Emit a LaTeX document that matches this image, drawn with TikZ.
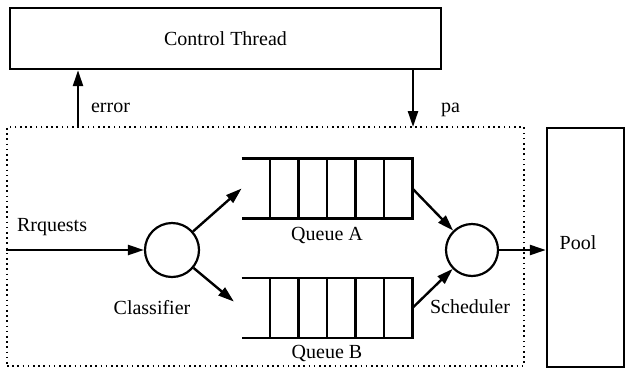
\documentclass[tikz,border=0pt]{standalone}
\usepackage{fontspec}
\setmainfont{Liberation Serif}
\usetikzlibrary{positioning,calc,arrows.meta}

\tikzset{
  box/.style={draw, line width=1.2pt, inner sep=0pt},
  proc/.style={draw, circle, line width=1.1pt, minimum size=27pt, inner sep=0pt},
  arr/.style={line width=1.2pt, -{Triangle[length=8pt,width=5pt]}},
  qcell/.style={inner sep=0pt, minimum width=85pt, minimum height=29.5pt},
  frm/.style={draw, line width=0.8pt, dash pattern=on 0.8pt off 1.8pt, inner sep=0pt},
}

\begin{document}
\begin{tikzpicture}[x=0.5pt,y=-0.5pt]
    \useasboundingbox (0,0) rectangle (625,370);

    % Control thread, pool and the dotted frame
    \node[box, minimum width=215.5pt, minimum height=30.5pt] (ctrl) at (225.5,38.5) {Control Thread};
    \node[box, minimum width=38.5pt, minimum height=119.5pt] (pool) at (585.5,247.5) {};
    \node (poolname) at (578,243) {Pool};
    \node[frm, minimum width=258.5pt, minimum height=119.5pt] (frame) at (265.5,246.5) {};

    % Classifier and scheduler
    \node[proc] (cls) at (172,250) {};
    \node[proc, minimum size=26pt] (sch) at (472,250) {};
    \node (clsname) at (152,308) {Classifier};
    \node (schname) at (470,307) {Scheduler};

    % Queues
    \node[qcell] (qa) at (327,188.5) {};
    \node[qcell] (qb) at (327,308) {};
    \foreach \q in {qa,qb} {
        \draw[line width=1.2pt] (\q.north west) -- (\q.north east) -- (\q.south east) -- (\q.south west);
        \foreach \k in {1,...,5}
            \draw[line width=1.1pt] ($(\q.north west)!\k/6!(\q.north east)$) -- ($(\q.south west)!\k/6!(\q.south east)$);
    }
    \node[below=1pt of qa] (qaname) {Queue A};
    \node[below=0pt of qb] (qbname) {Queue B};

    % Connectors
    \coordinate (errpt) at (78,127);
    \coordinate (papt) at (413,127);
    \draw[arr] (errpt) -- (errpt |- ctrl.south);
    \draw[arr] (papt |- ctrl.south) -- (papt);
    \node[anchor=west] (errname) at (84,108) {error};
    \node[anchor=west] (paname) at (434,110) {pa};
    \draw[arr] (frame.west |- cls) -- (cls);
    \node[anchor=west] (reqname) at (10,227) {Rrquests};
    \draw[arr] (cls) -- (qa.west);
    \draw[arr, shorten >=5pt] (cls) -- (qb.west);
    \draw[arr] (qa.east) -- (sch);
    \draw[arr] (qb.east) -- (sch);
    \draw[arr] (sch) -- (sch -| pool.west);
\end{tikzpicture}
\end{document}
